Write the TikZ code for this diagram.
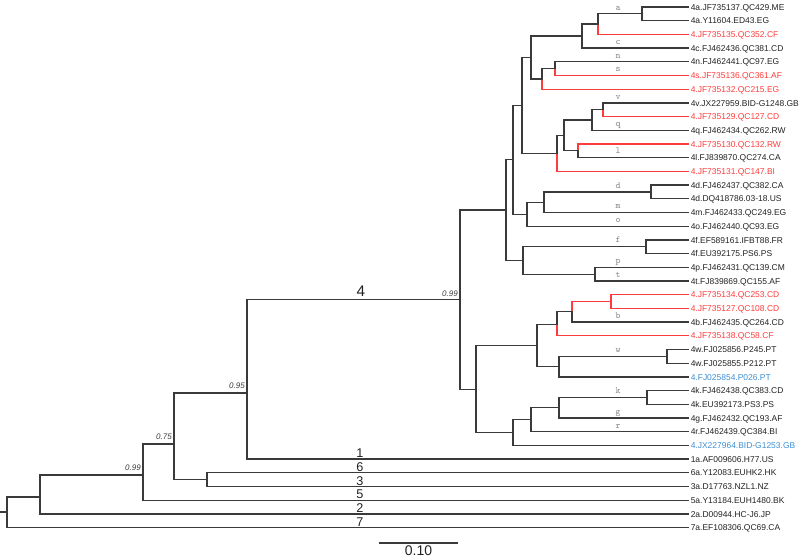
\documentclass[tikz,border=0pt]{standalone}
\usepackage{fontspec}
\setmainfont{Liberation Sans}
\usetikzlibrary{calc}
\definecolor{brk}{HTML}{3A3A3A}
\definecolor{tipk}{HTML}{222222}
\definecolor{redc}{HTML}{FF3B3B}
\definecolor{bluec}{HTML}{3D8FD4}
\definecolor{lettc}{HTML}{8A8A8A}
\begin{document}
\begin{tikzpicture}[x=0.75pt,y=-0.75pt,
  br/.style={draw=brk,line width=0.95pt,line cap=rect},
  redbr/.style={draw=redc,line width=0.95pt,line cap=rect},
  tiplab/.style={anchor=base west,inner sep=0pt,font=\fontsize{6.35}{7}\selectfont},
  clade/.style={anchor=south,inner sep=0pt,font=\fontsize{9.5}{10}\selectfont,text=tipk},
  boot/.style={anchor=south east,inner sep=0pt,font=\fontsize{6}{7}\selectfont\itshape,text=brk},
  lett/.style={anchor=base,inner sep=0pt,font=\fontsize{7}{8}\ttfamily,text=lettc}
]
\useasboundingbox (0,0) rectangle (800,558);

% tips and labels
\foreach \i/\lab/\c in {
 1/4a.JF735137.QC429.ME/tipk,
 2/4a.Y11604.ED43.EG/tipk,
 3/4.JF735135.QC352.CF/redc,
 4/4c.FJ462436.QC381.CD/tipk,
 5/4n.FJ462441.QC97.EG/tipk,
 6/4s.JF735136.QC361.AF/redc,
 7/4.JF735132.QC215.EG/redc,
 8/4v.JX227959.BID-G1248.GB/tipk,
 9/4.JF735129.QC127.CD/redc,
 10/4q.FJ462434.QC262.RW/tipk,
 11/4.JF735130.QC132.RW/redc,
 12/4l.FJ839870.QC274.CA/tipk,
 13/4.JF735131.QC147.BI/redc,
 14/4d.FJ462437.QC382.CA/tipk,
 15/4d.DQ418786.03-18.US/tipk,
 16/4m.FJ462433.QC249.EG/tipk,
 17/4o.FJ462440.QC93.EG/tipk,
 18/4f.EF589161.IFBT88.FR/tipk,
 19/4f.EU392175.PS6.PS/tipk,
 20/4p.FJ462431.QC139.CM/tipk,
 21/4t.FJ839869.QC155.AF/tipk,
 22/4.JF735134.QC253.CD/redc,
 23/4.JF735127.QC108.CD/redc,
 24/4b.FJ462435.QC264.CD/tipk,
 25/4.JF735138.QC58.CF/redc,
 26/4w.FJ025856.P245.PT/tipk,
 27/4w.FJ025855.P212.PT/tipk,
 28/4.FJ025854.P026.PT/bluec,
 29/4k.FJ462438.QC383.CD/tipk,
 30/4k.EU392173.PS3.PS/tipk,
 31/4g.FJ462432.QC193.AF/tipk,
 32/4r.FJ462439.QC384.BI/tipk,
 33/4.JX227964.BID-G1253.GB/bluec,
 34/1a.AF009606.H77.US/tipk,
 35/6a.Y12083.EUHK2.HK/tipk,
 36/3a.D17763.NZL1.NZ/tipk,
 37/5a.Y13184.EUH1480.BK/tipk,
 38/2a.D00944.HC-J6.JP/tipk,
 39/7a.EF108306.QC69.CA/tipk}{
  \coordinate (t\i) at (688,{7+13.7*(\i-1)});
  \node[tiplab,text=\c] (l\i) at (690.5,{7+13.7*(\i-1)+3.1}) {\lab};
}

% internal nodes
\coordinate (na) at (642,13.85);
\coordinate (na3) at (598,24.1);
\coordinate (nc) at (582,36.1);
\coordinate (nns) at (555,68.65);
\coordinate (nns7) at (542,78.9);
\coordinate (ntop1) at (531,57.5);
\coordinate (nv) at (603,109.75);
\coordinate (nq) at (592,120);
\coordinate (nl) at (578,150.85);
\coordinate (nql) at (564,135.4);
\coordinate (n13) at (557,153.4);
\coordinate (n2) at (522,105.4);
\coordinate (nd) at (651,191.95);
\coordinate (ndm) at (544,202.2);
\coordinate (ndmo) at (527,214.2);
\coordinate (n4) at (513,159.8);
\coordinate (nf) at (646,246.75);
\coordinate (npt) at (595,274.15);
\coordinate (nft) at (523,260.45);
\coordinate (n5) at (506,210.1);
\coordinate (nr2) at (611,301.55);
\coordinate (nrb) at (572,311.8);
\coordinate (nrb25) at (557,324.3);
\coordinate (nw) at (667,356.35);
\coordinate (nw28) at (559,366.6);
\coordinate (nbw) at (537,345.5);
\coordinate (nk) at (647,397.45);
\coordinate (nkg) at (559,407.7);
\coordinate (nkgr) at (531,419.7);
\coordinate (nkgr33) at (513,432.6);
\coordinate (nB) at (476,389.5);
\coordinate (n99) at (460,299.8);
\coordinate (n95) at (247,393);
\coordinate (n63) at (207,479.65);
\coordinate (n75) at (174,444);
\coordinate (n99r) at (143,475);
\coordinate (n2r) at (40,497);
\coordinate (root) at (7,512);
\coordinate (rootstub) at (0,512);

% branches
\draw[br] (na) |- (t1) (na) |- (t2);
\draw[br] (na3) |- (na);
\draw[redbr] (na3) |- (t3);
\draw[br] (nc) |- (na3) (nc) |- (t4);
\draw[br] (nns) |- (t5);
\draw[redbr] (nns) |- (t6);
\draw[br] (nns7) |- (nns);
\draw[redbr] (nns7) |- (t7);
\draw[br] (ntop1) |- (nc) (ntop1) |- (nns7);
\draw[br] (nv) |- (t8);
\draw[redbr] (nv) |- (t9);
\draw[br] (nq) |- (nv) (nq) |- (t10);
\draw[redbr] (nl) |- (t11);
\draw[br] (nl) |- (t12);
\draw[br] (nql) |- (nq) (nql) |- (nl);
\draw[br] (n13) |- (nql);
\draw[redbr] (n13) |- (t13);
\draw[br] (n2) |- (ntop1) (n2) |- (n13);
\draw[br] (nd) |- (t14) (nd) |- (t15);
\draw[br] (ndm) |- (nd) (ndm) |- (t16);
\draw[br] (ndmo) |- (ndm) (ndmo) |- (t17);
\draw[br] (n4) |- (n2) (n4) |- (ndmo);
\draw[br] (nf) |- (t18) (nf) |- (t19);
\draw[br] (npt) |- (t20) (npt) |- (t21);
\draw[br] (nft) |- (nf) (nft) |- (npt);
\draw[br] (n5) |- (n4) (n5) |- (nft);
\draw[redbr] (nr2) |- (t22) (nr2) |- (t23);
\draw[redbr] (nrb) |- (nr2);
\draw[br] (nrb) |- (t24);
\draw[br] (nrb25) |- (nrb);
\draw[redbr] (nrb25) |- (t25);
\draw[br] (nw) |- (t26) (nw) |- (t27);
\draw[br] (nw28) |- (nw) (nw28) |- (t28);
\draw[br] (nbw) |- (nrb25) (nbw) |- (nw28);
\draw[br] (nk) |- (t29) (nk) |- (t30);
\draw[br] (nkg) |- (nk) (nkg) |- (t31);
\draw[br] (nkgr) |- (nkg) (nkgr) |- (t32);
\draw[br] (nkgr33) |- (nkgr) (nkgr33) |- (t33);
\draw[br] (nB) |- (nbw) (nB) |- (nkgr33);
\draw[br] (n99) |- (n5) (n99) |- (nB);
\draw[br] (n95) |- (n99) (n95) |- (t34);
\draw[br] (n63) |- (t35) (n63) |- (t36);
\draw[br] (n75) |- (n95) (n75) |- (n63);
\draw[br] (n99r) |- (n75) (n99r) |- (t37);
\draw[br] (n2r) |- (n99r) (n2r) |- (t38);
\draw[br] (root) |- (n2r) (root) |- (t39);
\draw[br] (rootstub) -- (root);

% subtype letters
\foreach \nm/\yy in {a/13.85,c/48.1,n/61.8,s/75.5,v/102.9,q/130.1,l/157.7,
  d/191.95,m/212.5,o/226.2,f/246.75,p/267.3,t/281,b/322.1,w/356.35,
  k/397.45,g/418.1,r/431.8}{
  \node[lett] (let\nm) at (618,{\yy-3.8}) {\nm};
}

% genotype labels
\node[clade,font=\fontsize{11.5}{12}\selectfont] (g4) at (361,297) {4};
\node[clade] (g1) at (360,458) {1};
\node[clade] (g6) at (360,471.7) {6};
\node[clade] (g3) at (360,485.4) {3};
\node[clade] (g5) at (360,499.1) {5};
\node[clade] (g2) at (360,512.8) {2};
\node[clade] (g7) at (360,526.5) {7};

% bootstrap values
\node[boot] (b1) at (458,296.5) {0.99};
\node[boot] (b2) at (245,389) {0.95};
\node[boot] (b3) at (172,440) {0.75};
\node[boot] (b4) at (141,471) {0.99};

% scale bar
\coordinate (sb1) at (380,543);
\coordinate (sb2) at (457,543);
\draw[br] (sb1) -- (sb2);
\node[anchor=north,inner sep=0pt,font=\fontsize{10.5}{11}\selectfont,text=tipk] (sbl) at (418.5,545.5) {0.10};
\end{tikzpicture}
\end{document}
